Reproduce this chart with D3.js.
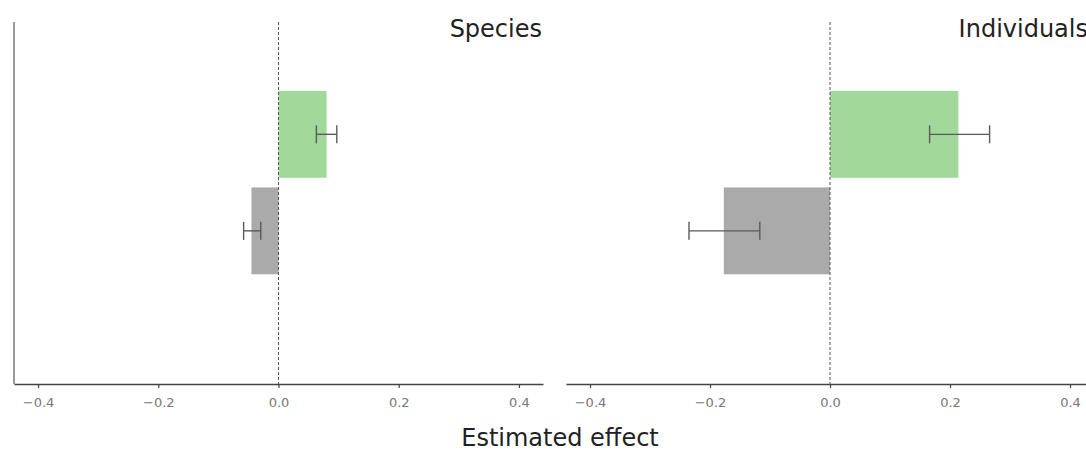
<!DOCTYPE html>
<html>
<head>
<meta charset="utf-8">
<script src="https://cdn.jsdelivr.net/npm/d3@7.8.5/dist/d3.min.js"></script>
<style>
  html, body { margin: 0; padding: 0; background: #fff; }
  svg { display: block; font-family: "DejaVu Sans", Verdana, sans-serif; }
</style>
</head>
<body>
<div id="chart"></div>
<script>
// ── Data ────────────────────────────────────────────────────────────────
const PANELS = ["Species", "Individuals"];
const CATEGORIES = ["Positive", "Negative"];
const CAT_COLORS = ["#a1d99b", "#aaaaaa"];

const SPECIES_EFFECT = [0.08, -0.045];
const SPECIES_LOW = [0.063, -0.058];
const SPECIES_HIGH = [0.097, -0.0295];

const INDIVIDUALS_EFFECT = [0.214, -0.177];
const INDIVIDUALS_LOW = [0.166, -0.235];
const INDIVIDUALS_HIGH = [0.266, -0.117];

const X_TICKS = [-0.4, -0.2, 0, 0.2, 0.4];
const X_LABEL = "Estimated effect";

// ── Layout ──────────────────────────────────────────────────────────────
const W = 1086;
const H = 451;
const TOP = 22;
const AXIS_Y = 384;
const PANEL_X = [[14, 543], [566, 1094]];
const TITLE_INSET = [1, 6]; // title right edge inside each panel
const X_DOMAIN = [-0.44, 0.44];
const BAR_H = 0.9; // in row units
const CAP = 9; // half height of error bar caps

const panelData = [
  { effect: SPECIES_EFFECT, low: SPECIES_LOW, high: SPECIES_HIGH },
  { effect: INDIVIDUALS_EFFECT, low: INDIVIDUALS_LOW, high: INDIVIDUALS_HIGH },
];

const svg = d3
  .select("#chart")
  .append("svg")
  .attr("width", W)
  .attr("height", H);

// rows 0 and 1 sit in the upper part of the plot area
const y = d3.scaleLinear().domain([-1.164, 2.587]).range([TOP, AXIS_Y]);

PANELS.forEach((title, p) => {
  const [x0, x1] = PANEL_X[p];
  const x = d3.scaleLinear().domain(X_DOMAIN).range([x0, x1]);
  const d = panelData[p];
  const rows = CATEGORIES.map((c, i) => ({
    cat: c,
    i,
    v: d.effect[i],
    lo: d.low[i],
    hi: d.high[i],
  }));
  const g = svg.append("g");

  // bars
  g.selectAll("rect.bar")
    .data(rows)
    .join("rect")
    .attr("class", "bar")
    .attr("x", (r) => x(Math.min(0, r.v)))
    .attr("width", (r) => Math.abs(x(r.v) - x(0)))
    .attr("y", (r) => y(r.i - BAR_H / 2))
    .attr("height", (r) => y(BAR_H) - y(0))
    .attr("fill", (r) => CAT_COLORS[r.i]);

  // zero line
  g.append("line")
    .attr("x1", x(0))
    .attr("x2", x(0))
    .attr("y1", TOP)
    .attr("y2", AXIS_Y)
    .attr("stroke", "#555")
    .attr("stroke-width", 1)
    .attr("stroke-dasharray", "3,2");

  // error bars
  const eb = g.selectAll("g.err").data(rows).join("g").attr("class", "err")
    .attr("stroke", "#5a5a5a")
    .attr("stroke-width", 1.4);
  eb.append("line")
    .attr("x1", (r) => x(r.lo))
    .attr("x2", (r) => x(r.hi))
    .attr("y1", (r) => y(r.i))
    .attr("y2", (r) => y(r.i));
  ["lo", "hi"].forEach((k) => {
    eb.append("line")
      .attr("x1", (r) => x(r[k]))
      .attr("x2", (r) => x(r[k]))
      .attr("y1", (r) => y(r.i) - CAP)
      .attr("y2", (r) => y(r.i) + CAP);
  });

  // x axis
  const ax = g
    .append("g")
    .attr("transform", `translate(0,${AXIS_Y})`)
    .call(
      d3.axisBottom(x)
        .tickValues(X_TICKS)
        .tickFormat(d3.format(".1f"))
        .tickSize(4)
        .tickSizeOuter(0)
        .tickPadding(10)
    );
  ax.select(".domain").attr("stroke", "#444").attr("stroke-width", 1.5);
  ax.selectAll(".tick line").attr("stroke", "#444").attr("stroke-width", 1.2);
  ax.selectAll(".tick text")
    .attr("fill", "#777")
    .style("font-size", "13px")
    .style("font-family", "'DejaVu Sans', Verdana, sans-serif");

  // panel title, top right
  g.append("text")
    .attr("x", x1 - TITLE_INSET[p])
    .attr("y", 37)
    .attr("text-anchor", "end")
    .style("font-size", "24px")
    .style("fill", "#222")
    .text(title);
});

// left y axis line (shared y, no labels)
svg.append("line")
  .attr("x1", PANEL_X[0][0])
  .attr("x2", PANEL_X[0][0])
  .attr("y1", TOP)
  .attr("y2", AXIS_Y)
  .attr("stroke", "#999")
  .attr("stroke-width", 2);

// shared x label
svg.append("text")
  .attr("x", 560)
  .attr("y", 446)
  .attr("text-anchor", "middle")
  .style("font-size", "24px")
  .style("fill", "#222")
  .text(X_LABEL);
</script>
</body>
</html>
